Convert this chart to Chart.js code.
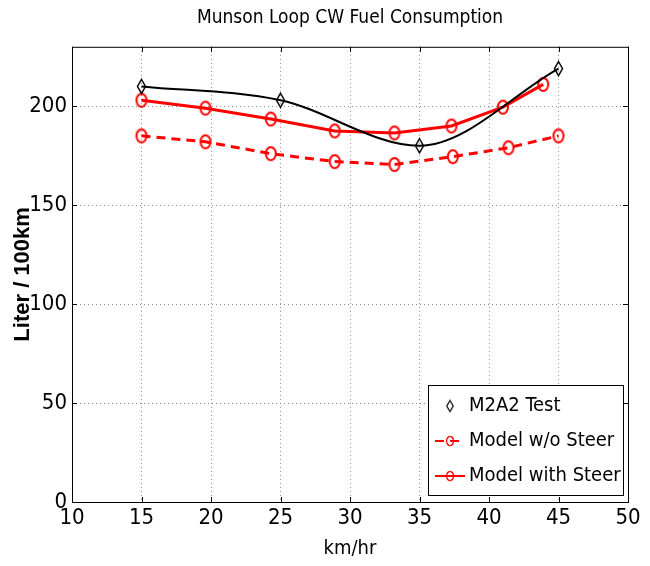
<!DOCTYPE html>
<html>
<head>
<meta charset="utf-8">
<script src="https://cdn.jsdelivr.net/npm/chart.js@4/dist/chart.umd.min.js"></script>
<style>
  html, body { margin: 0; padding: 0; background: #fff; }
</style>
</head>
<body>
<canvas id="fuelChart" width="650" height="566"></canvas>
<script>
// values
var testSpeeds = [15, 25, 35, 45];
var testFuel = [210, 203, 180, 219];

var noSteerSpeeds = [15, 19.6, 24.3, 28.9, 33.2, 37.4, 41.4, 45];
var noSteerFuel = [185, 182, 176, 172, 170.5, 174.5, 179, 185];

var steerSpeeds = [15, 19.6, 24.3, 28.9, 33.2, 37.3, 41, 43.9];
var steerFuel = [203, 199, 193.5, 187.5, 186.5, 190, 199.5, 211];

var xTicks = [10, 15, 20, 25, 30, 35, 40, 45, 50];
var yTicks = [0, 50, 100, 150, 200];

var narrow = '"Liberation Sans Narrow", "DejaVu Sans Condensed", "Liberation Sans", sans-serif';

function toPoints(xs, ys) {
    return xs.map(function (x, i) { return { x: x, y: ys[i] }; });
}

// oval markers, the picture is stretched vertically
function ovalMarker(w, h, color, lw) {
    var c = document.createElement('canvas');
    c.width = w + lw * 2; c.height = h + lw * 2;
    var g = c.getContext('2d');
    g.strokeStyle = color; g.lineWidth = lw;
    g.beginPath();
    g.ellipse(c.width / 2, c.height / 2, w / 2, h / 2, 0, 0, Math.PI * 2);
    g.stroke();
    return c;
}

function diamondMarker(w, h, color, lw) {
    var c = document.createElement('canvas');
    c.width = w + lw * 2; c.height = h + lw * 2;
    var g = c.getContext('2d');
    var cx = c.width / 2, cy = c.height / 2;
    g.strokeStyle = color; g.lineWidth = lw;
    g.beginPath();
    g.moveTo(cx, cy - h / 2); g.lineTo(cx + w / 2, cy);
    g.lineTo(cx, cy + h / 2); g.lineTo(cx - w / 2, cy);
    g.closePath();
    g.stroke();
    return c;
}

var redOval = ovalMarker(10, 13, '#ff0000', 2);
var blackDiamond = diamondMarker(8, 14, '#000000', 1.5);

// box, inward ticks and the legend, matlab style
var matlabFrame = {
    id: 'matlabFrame',
    afterDatasetsDraw: function (chart) {
        var ctx = chart.ctx, a = chart.chartArea;
        var xs = chart.scales.x, ys = chart.scales.y;
        ctx.save();
        ctx.strokeStyle = '#000';
        ctx.lineWidth = 1;
        ctx.strokeRect(a.left + 0.5, a.top + 0.5, a.right - a.left, a.bottom - a.top);
        ctx.beginPath();
        xTicks.forEach(function (v) {
            var px = Math.round(xs.getPixelForValue(v)) + 0.5;
            ctx.moveTo(px, a.bottom); ctx.lineTo(px, a.bottom - 5);
            ctx.moveTo(px, a.top); ctx.lineTo(px, a.top + 5);
        });
        yTicks.forEach(function (v) {
            var py = Math.round(ys.getPixelForValue(v)) + 0.5;
            ctx.moveTo(a.left, py); ctx.lineTo(a.left + 5, py);
            ctx.moveTo(a.right, py); ctx.lineTo(a.right - 5, py);
        });
        ctx.stroke();

        // legend box
        var bw = 195, bh = 110;
        var bx = a.right - 5 - bw, by = a.bottom - 7 - bh;
        ctx.fillStyle = '#fff';
        ctx.fillRect(bx, by, bw, bh);
        ctx.strokeRect(bx + 0.5, by + 0.5, bw, bh);
        ctx.font = '20px ' + narrow;
        ctx.textBaseline = 'middle';
        chart.data.datasets.forEach(function (ds, i) {
            var ry = by + 21 + i * 35;
            var lx = bx + 7, mx = bx + 22;
            if (ds.legendLine) {
                ctx.save();
                ctx.strokeStyle = ds.borderColor;
                ctx.lineWidth = 2;
                ctx.setLineDash(ds.borderDash || []);
                ctx.beginPath();
                ctx.moveTo(lx, ry); ctx.lineTo(lx + 30, ry);
                ctx.stroke();
                ctx.restore();
            }
            var m = ds.pointStyle;
            var s = ds.legendLine ? 0.7 : 0.8;
            ctx.drawImage(m, mx - m.width * s / 2, ry - m.height * s / 2, m.width * s, m.height * s);
            ctx.fillStyle = '#000';
            ctx.fillText(ds.label, bx + 41, ry);
        });
        ctx.restore();
    }
};

var ctx = document.getElementById('fuelChart').getContext('2d');
new Chart(ctx, {
    type: 'scatter',
    data: {
        datasets: [{
            label: 'M2A2 Test',
            data: toPoints(testSpeeds, testFuel),
            showLine: true,
            cubicInterpolationMode: 'monotone',
            borderColor: '#000',
            borderWidth: 2,
            pointStyle: blackDiamond,
            legendLine: false
        }, {
            label: 'Model w/o Steer',
            data: toPoints(noSteerSpeeds, noSteerFuel),
            showLine: true,
            borderColor: '#ff0000',
            borderWidth: 3,
            borderDash: [9, 6],
            pointStyle: redOval,
            legendLine: true
        }, {
            label: 'Model with Steer',
            data: toPoints(steerSpeeds, steerFuel),
            showLine: true,
            borderColor: '#ff0000',
            borderWidth: 3,
            pointStyle: redOval,
            legendLine: true
        }]
    },
    options: {
        responsive: false,
        animation: false,
        layout: { padding: { left: 0, right: 22, top: 0, bottom: 0 } },
        plugins: {
            legend: { display: false },
            tooltip: { enabled: false },
            title: {
                display: true,
                fullSize: false,
                text: 'Munson Loop CW Fuel Consumption',
                color: '#000',
                font: { family: narrow, size: 19, weight: 'normal' },
                padding: { top: 7, bottom: 17 }
            }
        },
        scales: {
            x: {
                type: 'linear',
                min: 10,
                max: 50,
                afterBuildTicks: function (s) { s.ticks = xTicks.map(function (v) { return { value: v }; }); },
                afterFit: function (s) { s.height = 64; },
                grid: { color: '#888', drawTicks: false, lineWidth: 1 },
                border: { display: false, dash: [1, 3] },
                ticks: { color: '#000', padding: 3, maxRotation: 0, font: { family: narrow, size: 22 } },
                title: {
                    display: true,
                    text: 'km/hr',
                    color: '#000',
                    font: { family: narrow, size: 20 },
                    padding: { top: 0, bottom: 5 }
                }
            },
            y: {
                min: 0,
                max: 230,
                afterBuildTicks: function (s) { s.ticks = yTicks.map(function (v) { return { value: v }; }); },
                afterFit: function (s) { s.width = 72; },
                grid: { color: '#888', drawTicks: false, lineWidth: 1 },
                border: { display: false, dash: [1, 3] },
                ticks: { color: '#000', padding: 5, font: { family: narrow, size: 22 } },
                title: {
                    display: true,
                    text: 'Liter / 100km',
                    color: '#000',
                    font: { family: '"Liberation Sans", Arial, sans-serif', size: 22, weight: 'bold' },
                    padding: { top: 10, bottom: 0 }
                }
            }
        }
    },
    plugins: [matlabFrame]
});
</script>
</body>
</html>
